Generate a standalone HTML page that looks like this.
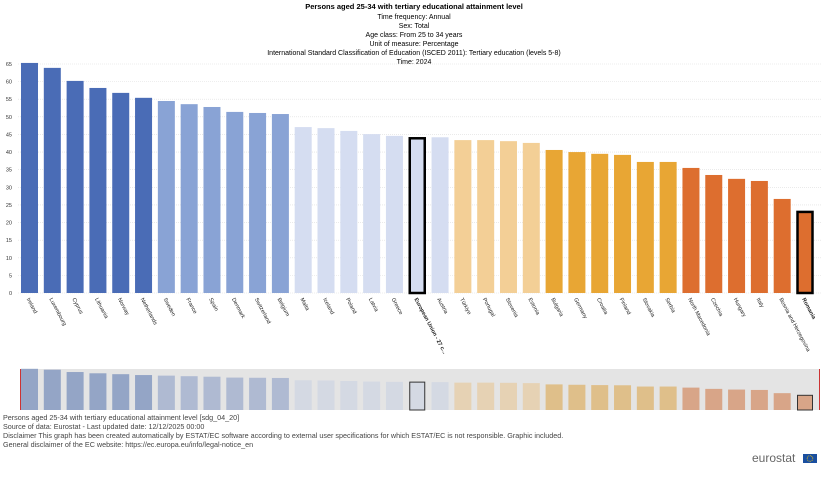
<!DOCTYPE html>
<html><head><meta charset="utf-8">
<style>
body{margin:0;background:#fff;font-family:"Liberation Sans",sans-serif;}
svg text{font-family:"Liberation Sans",sans-serif;}
</style></head>
<body>
<svg id="chart" width="828" height="474" xmlns="http://www.w3.org/2000/svg">
<g text-anchor="middle" font-size="7" fill="#000">
<text x="414" y="9" font-weight="bold" font-size="7.5">Persons aged 25-34 with tertiary educational attainment level</text>
<text x="414" y="19">Time frequency:  Annual</text>
<text x="414" y="28">Sex:  Total</text>
<text x="414" y="37">Age class:  From 25 to 34 years</text>
<text x="414" y="46">Unit of measure:  Percentage</text>
<text x="414" y="55">International Standard Classification of Education (ISCED 2011):  Tertiary education (levels 5-8)</text>
<text x="414" y="64">Time:  2024</text>
</g>
<g id="grid"></g>
<g id="bars"></g>
<g id="xlabels"></g>
<rect x="20" y="369" width="800" height="41" fill="#e4e4e4"/>
<line x1="20.5" y1="369" x2="20.5" y2="410" stroke="#c33" stroke-width="1"/>
<line x1="819.5" y1="369" x2="819.5" y2="410" stroke="#c33" stroke-width="1"/>
<g id="nav"></g>
<g font-size="7.2" fill="#444">
<text x="3" y="420">Persons aged 25-34 with tertiary educational attainment level [sdg_04_20]</text>
<text x="3" y="429">Source of data: Eurostat - Last updated date: 12/12/2025 00:00</text>
<text x="3" y="438">Disclaimer This graph has been created automatically by ESTAT/EC software according to external user specifications for which ESTAT/EC is not responsible. Graphic included.</text>
<text x="3" y="447">General disclaimer of the EC website: https://ec.europa.eu/info/legal-notice_en</text>
</g>
<g>
<text x="752" y="462" font-size="12" fill="#666">eurostat</text>
<rect x="803" y="454" width="14" height="9" fill="#1a4fa0"/>
<circle cx="810" cy="458.5" r="2.8" fill="none" stroke="#fc0" stroke-width="0.8" stroke-dasharray="0.8 0.8"/>
</g>
</svg>
<script>
const categories=["Ireland","Luxembourg","Cyprus","Lithuania","Norway","Netherlands","Sweden","France","Spain","Denmark","Switzerland","Belgium","Malta","Iceland","Poland","Latvia","Greece","European Union - 27 c...","Austria","Türkiye","Portugal","Slovenia","Estonia","Bulgaria","Germany","Croatia","Finland","Slovakia","Serbia","North Macedonia","Czechia","Hungary","Italy","Bosnia and Herzegovina","Romania"];
const values=[65.3,63.9,60.2,58.2,56.8,55.4,54.5,53.6,52.8,51.4,51.1,50.8,47.1,46.8,46.0,45.1,44.6,44.2,44.2,43.4,43.4,43.1,42.6,40.6,40.0,39.5,39.2,37.2,37.2,35.5,33.5,32.4,31.8,26.7,23.3];
const colorGroups=[0,0,0,0,0,0,1,1,1,1,1,1,2,2,2,2,2,2,2,3,3,3,3,4,4,4,4,4,4,5,5,5,5,5,5];
const highlighted=["European Union - 27 c...","Romania"];
const yTicks=[0,5,10,15,20,25,30,35,40,45,50,55,60,65];
const colors=["#4a6cb6","#89a3d5","#d5ddf1","#f3cf96","#e8a634","#dd6e2f"];
const navColors=["#94a5c6","#afbad2","#d4d9e3","#e6d2b4","#dfbf8a","#d8a588"];
const NS="http://www.w3.org/2000/svg";
const y0=293,yTop=64,yMax=65;
function y(v){return y0-(v/yMax)*(y0-yTop);}
const x0=29.5,step=(805-29.5)/(categories.length-1),bw=17;
function xc(i){return x0+i*step;}
const grid=document.getElementById('grid');
yTicks.forEach(t=>{
  const l=document.createElementNS(NS,'line');
  
  
  l.setAttribute('x1',18);l.setAttribute('x2',822);l.setAttribute('y1',y(t));l.setAttribute('y2',y(t));
  l.setAttribute('stroke','#ddd');l.setAttribute('stroke-width','0.6');l.setAttribute('stroke-dasharray','1 1');
  grid.appendChild(l);
  const tx=document.createElementNS(NS,'text');
  
  
  tx.setAttribute('x',12);tx.setAttribute('y',y(t)+2);tx.setAttribute('font-size','5.5');tx.setAttribute('text-anchor','end');tx.setAttribute('fill','#333');
  tx.textContent=t;grid.appendChild(tx);
});
const bars=document.getElementById('bars'),xl=document.getElementById('xlabels'),nav=document.getElementById('nav');
const navTop=369,navBot=410;
categories.forEach((c,i)=>{
  const hl=highlighted.includes(c);
  const r=document.createElementNS(NS,'rect');
  
  
  const top=y(values[i]);
  if(hl){
    r.setAttribute('x',xc(i)-bw/2+1);r.setAttribute('width',bw-2);
    r.setAttribute('y',top+1);r.setAttribute('height',y0-top-1);
    r.setAttribute('stroke','#000');r.setAttribute('stroke-width','2.5');
  }else{
    r.setAttribute('x',xc(i)-bw/2);r.setAttribute('width',bw);
    r.setAttribute('y',top);r.setAttribute('height',y0-top);
  }
  r.setAttribute('fill',colors[colorGroups[i]]);
  bars.appendChild(r);
  const t=document.createElementNS(NS,'text');
  
  
  const lx=xc(i)-3,ly=y0+6;
  t.setAttribute('x',lx);t.setAttribute('y',ly);
  t.setAttribute('transform','rotate(62 '+lx+' '+ly+')');
  t.setAttribute('font-size','5.5');t.setAttribute('fill','#222');
  if(hl)t.setAttribute('font-weight','bold');
  t.textContent=c;xl.appendChild(t);
  const n=document.createElementNS(NS,'rect');
  
  
  const nt=navBot-(values[i]/yMax)*(navBot-navTop);
  n.setAttribute('x',xc(i)-bw/2+(hl?1:0));n.setAttribute('width',bw-(hl?2:0));
  n.setAttribute('y',nt);n.setAttribute('height',navBot-nt);
  n.setAttribute('fill',navColors[colorGroups[i]]);
  if(hl){n.setAttribute('stroke','#333');n.setAttribute('stroke-width','1');}
  nav.appendChild(n);
});
</script>
</body></html>
